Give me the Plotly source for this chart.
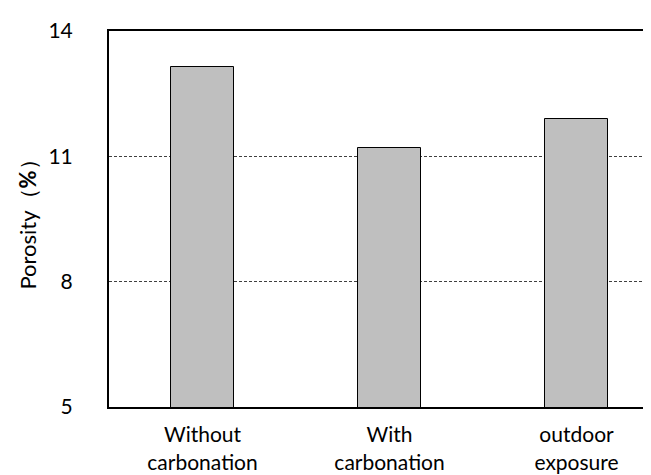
import plotly.graph_objects as go

categories = ["Without<br>carbonation", "With<br>carbonation", "outdoor<br>exposure"]
porosity = [13.15, 11.2, 11.9]
y_ticks = [5, 8, 11, 14]

FONT = "Lato"
fig = go.Figure()
fig.add_trace(go.Bar(
    x=list(range(len(categories))),
    y=porosity,
    width=0.337,
    marker=dict(color="#BFBFBF", line=dict(color="#000000", width=1)),
    base=0,
))
fig.update_layout(
    width=651, height=475,
    margin=dict(l=101, r=0, t=23, b=76),
    paper_bgcolor="white", plot_bgcolor="white",
    showlegend=False,
    font=dict(family=FONT, size=21, color="#000000"),
    bargap=0,
)
fig.update_xaxes(
    range=[-0.5, 2.441],
    tickmode="array",
    tickvals=list(range(len(categories))),
    ticktext=categories,
    showline=True, linecolor="#000000", linewidth=2, mirror=True,
    showgrid=False, ticks="", ticklabelstandoff=8,
    tickfont=dict(family=FONT, size=21),
)
fig.update_yaxes(
    range=[5, 14],
    tickmode="array", tickvals=y_ticks,
    showline=True, linecolor="#000000", linewidth=2, mirror=False,
    showgrid=True, gridcolor="#404040", gridwidth=1, griddash="3px,2px",
    zeroline=False, ticks="", ticklabelstandoff=30,
    tickfont=dict(family=FONT, size=21),
    title=dict(text="Porosity（<b>%</b>）", font=dict(family=FONT, size=22), standoff=6),
)
fig.write_html("out.html")
